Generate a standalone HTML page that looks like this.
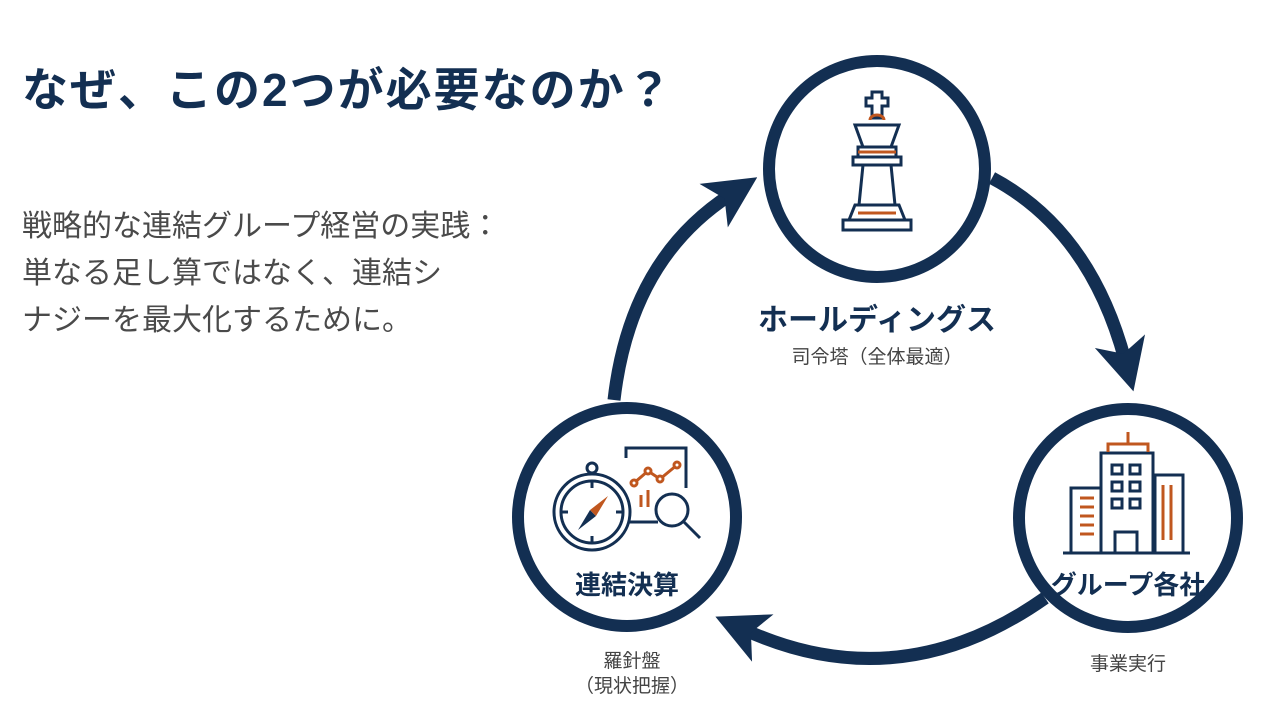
<!DOCTYPE html>
<html><head><meta charset="utf-8"><style>
html,body{margin:0;padding:0;background:#fff;}
body{width:1286px;height:717px;position:relative;overflow:hidden;font-family:"Liberation Sans","Noto Sans CJK JP",sans-serif;}
.t{position:absolute;white-space:nowrap;}
</style></head><body>
<div class="t" style="left:22px;top:54px;font-size:46px;font-weight:bold;color:#132f52;letter-spacing:2px;">なぜ、この2つが必要なのか？</div>
<div class="t" style="left:22px;top:203px;font-size:30px;line-height:47px;color:#4a4a4a;">戦略的な連結グループ経営の実践：<br>単なる足し算ではなく、連結シ<br>ナジーを最大化するために。</div>
<svg width="1286" height="717" style="position:absolute;left:0;top:0">
<defs><marker id="a" markerWidth="4" markerHeight="4" refX="1.5" refY="2" orient="auto" markerUnits="strokeWidth"><path d="M0,0 L4,2 L0,4 L1,2 Z" fill="#132f52"/></marker></defs>
<g fill="none" stroke="#132f52" stroke-width="13">
<path d="M614,400 Q630,260 730,195" marker-end="url(#a)"/>
<path d="M992,178 Q1090,230 1125,360" marker-end="url(#a)"/>
<path d="M1045,598 Q900,700 745,630" marker-end="url(#a)"/>
</g>
<g fill="#fff" stroke="#132f52" stroke-width="12">
<circle cx="877" cy="169" r="108"/>
<circle cx="627" cy="517" r="109"/>
<circle cx="1128" cy="518" r="109"/>
</g>
<g fill="#fff" stroke="#132f52" stroke-width="3">
<path d="M872,92h10v6h6v8h-6v12h-10v-12h-6v-8h6z"/>
<path d="M855,125h44l-8,22h-28z"/>
<path d="M858,147h38v10h-38z"/>
<path d="M853,157h48v8h-48z"/>
<path d="M863,165h28l4,40h-36z"/>
<path d="M855,205h44l6,15h-56z"/>
<path d="M843,220h68v10h-68z"/>
</g>
<g stroke="#c0571f" stroke-width="3" fill="none"><path d="M870,120a7,5 0 0 1 14,0"/><line x1="858" y1="152" x2="896" y2="152"/><line x1="858" y1="213" x2="896" y2="213"/></g>
<g fill="#fff" stroke="#132f52" stroke-width="3">
<rect x="1071" y="488" width="32" height="65"/><rect x="1155" y="475" width="28" height="78"/><rect x="1101" y="453" width="52" height="100"/>
<rect x="1115" y="532" width="22" height="21"/>
<rect x="1112" y="465" width="10" height="9"/><rect x="1130" y="465" width="10" height="9"/><rect x="1112" y="482" width="10" height="9"/><rect x="1130" y="482" width="10" height="9"/><rect x="1112" y="499" width="10" height="9"/><rect x="1130" y="499" width="10" height="9"/>
<line x1="1063" y1="553" x2="1190" y2="553"/></g>
<g stroke="#c0571f" stroke-width="3" fill="none"><path d="M1128,432v12M1108,452v-8h40v8"/><path d="M1080,498h14M1080,507h14M1080,516h14M1080,525h14M1080,534h14"/><path d="M1163,485v55M1171,485v55"/></g>
<g fill="none" stroke="#132f52" stroke-width="3">
<circle cx="592" cy="512" r="38"/><circle cx="592" cy="512" r="31"/><circle cx="592" cy="468" r="5"/>
<path d="M592,481v7M592,536v7M561,512h7M616,512h7"/>
<path d="M626,458v-10h60v40M628,522h30"/>
<circle cx="672" cy="510" r="16"/><path d="M684,522l16,16"/>
</g>
<path d="M590,510l-12,20l18,-14z" fill="#132f52"/><path d="M590,510l18,-14l-12,20z" fill="#c0571f"/>
<g fill="#fff" stroke="#c0571f" stroke-width="3"><path d="M634,483l14,-12l12,8l17,-14" fill="none"/><circle cx="634" cy="483" r="3"/><circle cx="648" cy="471" r="3"/><circle cx="660" cy="479" r="3"/><circle cx="677" cy="465" r="3"/><path d="M641,495v12M648,490v17" fill="none"/></g>
</svg>
<div class="t" style="left:877px;transform:translateX(-50%);top:295px;font-size:30px;font-weight:bold;color:#132f52;">ホールディングス</div>
<div class="t" style="left:877px;transform:translateX(-50%);top:342px;font-size:19px;color:#444;">司令塔（全体最適）</div>
<div class="t" style="left:627px;transform:translateX(-50%);top:565px;font-size:26px;font-weight:bold;color:#132f52;">連結決算</div>
<div class="t" style="left:632px;transform:translateX(-50%);top:649px;font-size:19px;line-height:25px;color:#444;text-align:center;">羅針盤<br>（現状把握）</div>
<div class="t" style="left:1128px;transform:translateX(-50%);top:565px;font-size:26px;font-weight:bold;color:#132f52;">グループ各社</div>
<div class="t" style="left:1128px;transform:translateX(-50%);top:649px;font-size:19px;color:#444;">事業実行</div>
</body></html>
